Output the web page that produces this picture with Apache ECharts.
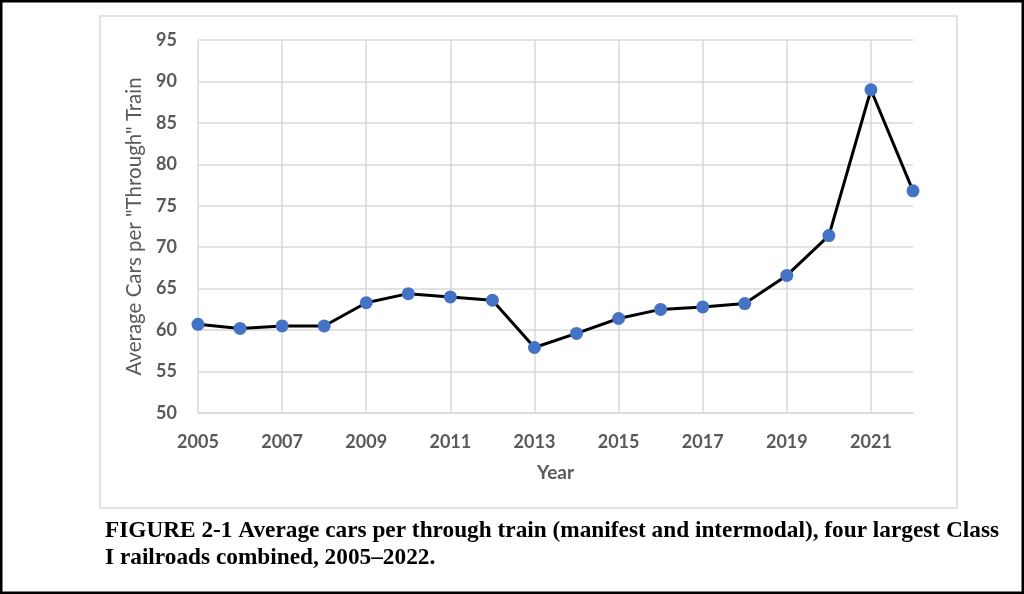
<!DOCTYPE html>
<html>
<head>
<meta charset="utf-8">
<script src="https://cdn.jsdelivr.net/npm/echarts@6/dist/echarts.min.js"></script>
<style>
html,body{margin:0;padding:0;background:#fff;}
#c{width:1024px;height:594px;}
</style>
</head>
<body>
<div id="c"></div>
<script>
const years = ['2005','2006','2007','2008','2009','2010','2011','2012','2013','2014','2015','2016','2017','2018','2019','2020','2021','2022'];
const avgCars = [60.7,60.2,60.5,60.5,63.3,64.4,64.0,63.6,57.9,59.6,61.4,62.5,62.8,63.2,66.6,71.4,89.0,76.8];
const yTicks = [50,55,60,65,70,75,80,85,90,95];
const captionLines = ['FIGURE 2-1 Average cars per through train (manifest and intermodal), four largest Class','I railroads combined, 2005\u20132022.'];

const chart = echarts.init(document.getElementById('c'));
chart.setOption({
  animation:false,
  backgroundColor:'#fff',
  grid:{left:198, top:40, width:715, height:373},
  xAxis:{
    type:'category', data:years, boundaryGap:false,
    name:'Year', nameLocation:'middle', nameGap:50,
    nameTextStyle:{fontFamily:'Lato', fontWeight:'bold', fontSize:19, color:'#595959'},
    axisLine:{lineStyle:{color:'#d9d9d9', width:1.5}},
    axisTick:{show:false},
    axisLabel:{interval:1, margin:20, fontFamily:'Lato', fontWeight:'bold', fontSize:18, color:'#595959'},
    splitLine:{show:true, interval:1, lineStyle:{color:'#d9d9d9', width:1.5}}
  },
  yAxis:{
    type:'value', min:yTicks[0], max:yTicks[yTicks.length-1], interval:5,
    name:'Average Cars per "Through" Train', nameLocation:'middle', nameGap:47, nameRotate:90,
    nameTextStyle:{fontFamily:'Lato', fontSize:20.5, color:'#595959'},
    axisLine:{show:false}, axisTick:{show:false},
    axisLabel:{margin:21, fontFamily:'Lato', fontWeight:'bold', fontSize:18, color:'#595959'},
    splitLine:{lineStyle:{color:'#d9d9d9', width:1.5}}
  },
  series:[{
    type:'line', data:avgCars,
    symbol:'circle', symbolSize:13,
    lineStyle:{color:'#000', width:3},
    itemStyle:{color:'#4472C4'}
  }],
  graphic:[
    {type:'rect', shape:{x:100, y:16, width:857, height:492}, style:{fill:'none', stroke:'#d9d9d9', lineWidth:1.5}, z:-1},
    {type:'rect', shape:{x:1, y:1, width:1022, height:592}, style:{fill:'none', stroke:'#000', lineWidth:3}},
    {type:'text', left:105, top:517, style:{text:captionLines.join('\n'), font:'bold 23.3px "Liberation Serif"', fill:'#000', lineHeight:27}}
  ]
});
</script>
</body>
</html>
